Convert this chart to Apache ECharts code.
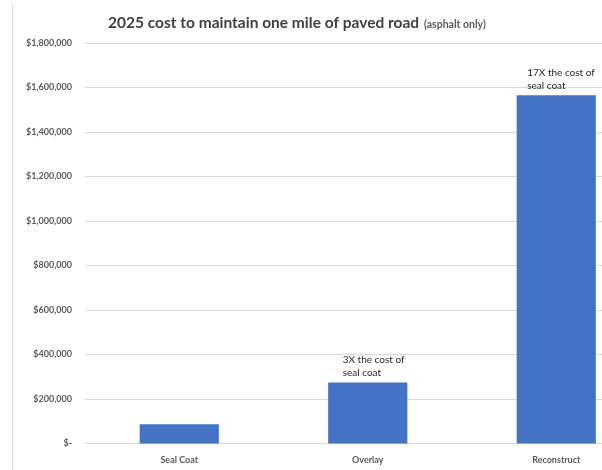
<!DOCTYPE html>
<html>
<head>
<meta charset="utf-8">
<script src="https://cdn.jsdelivr.net/npm/echarts@6/dist/echarts.min.js"></script>
<style>html,body{margin:0;padding:0;background:#fff}#c{width:602px;height:470px}</style>
</head>
<body>
<div id="c"></div>
<script>
const categories = ['Seal Coat', 'Overlay', 'Reconstruct'];
const costs = [87000, 274000, 1565000];
const annotations = [null, '3X the cost of\nseal coat', '17X the cost of\nseal coat'];
const titleMain = '2025 cost to maintain one mile of paved road';
const titleSub = '(asphalt only)';
const yMax = 1800000;
const yStep = 200000;

const FONT = 'Lato';
const chart = echarts.init(document.getElementById('c'), null, {renderer: 'canvas'});
const labelOffsets = [0, -25, -29];

chart.setOption({
  animation: false,
  backgroundColor: '#fff',
  title: {
    text: '{m|' + titleMain + '} {s|' + titleSub + '}',
    left: 103, top: 9,
    textStyle: {
      rich: {
        m: {fontFamily: FONT, fontWeight: 'bold', fontSize: 15.5, color: '#404040'},
        s: {fontFamily: FONT, fontSize: 10.5, color: '#595959', padding: [3, 0, 0, 0]}
      }
    }
  },
  graphic: [{
    type: 'line', shape: {x1: 12.5, y1: 5, x2: 12.5, y2: 470},
    style: {stroke: '#d9d9d9', lineWidth: 1}
  }],
  grid: {left: 85, width: 565.5, top: 43, bottom: 26.5, containLabel: false, outerBoundsMode: 'none'},
  xAxis: {
    type: 'category', data: categories,
    axisTick: {show: false},
    axisLine: {lineStyle: {color: '#d9d9d9', width: 1}},
    axisLabel: {fontFamily: FONT, fontWeight: 'bold', fontSize: 9, color: '#595959', margin: 12}
  },
  yAxis: {
    type: 'value', min: 0, max: yMax, interval: yStep,
    axisLine: {show: false}, axisTick: {show: false},
    splitLine: {lineStyle: {color: '#d9d9d9', width: 1}},
    axisLabel: {
      fontFamily: FONT, fontWeight: 'bold', fontSize: 9, color: '#595959', margin: 13,
      formatter: v => v === 0 ? '$-' : '$' + v.toLocaleString('en-US')
    }
  },
  series: [{
    type: 'bar', barWidth: '42%',
    itemStyle: {color: '#4472C4'},
    data: costs.map((v, i) => ({
      value: v,
      label: annotations[i] ? {
        show: true, position: 'top', align: 'left', distance: 3,
        offset: [labelOffsets[i], 0],
        formatter: annotations[i],
        fontFamily: FONT, fontSize: 10, lineHeight: 13, color: '#262626'
      } : {show: false}
    }))
  }]
});
</script>
</body>
</html>
